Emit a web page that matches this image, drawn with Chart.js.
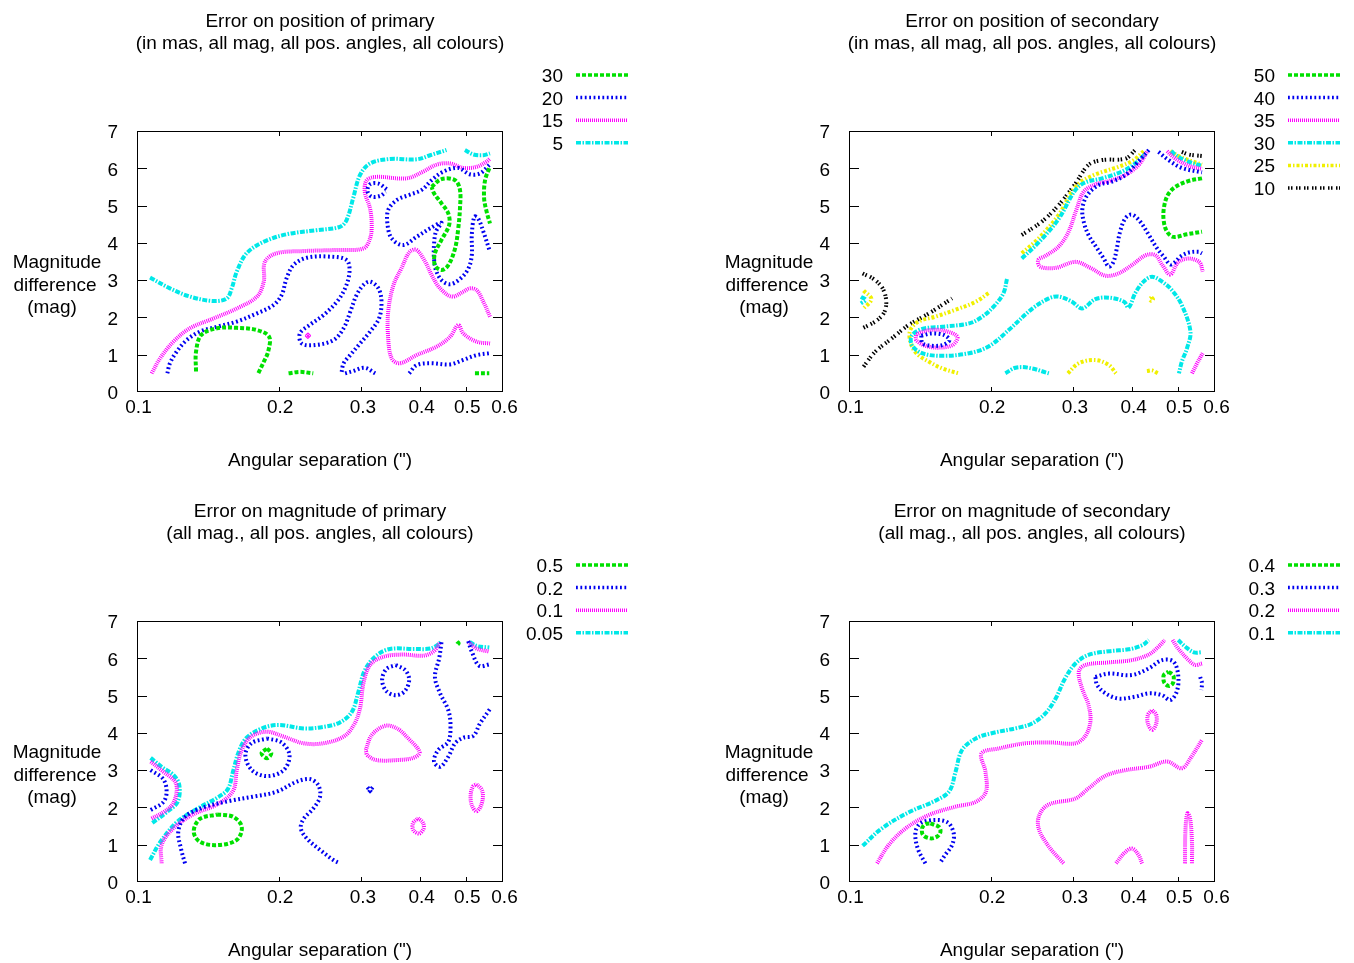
<!DOCTYPE html>
<html>
<head>
<meta charset="utf-8">
<script src="https://cdn.jsdelivr.net/npm/chart.js@4.4.1/dist/chart.umd.min.js"></script>
<style>
  body { margin: 0; background: #fff; width: 1354px; height: 963px; overflow: hidden; position: relative; }
  canvas { position: absolute; }
</style>
</head>
<body>
<canvas id="posPrim" width="642" height="490" style="left:0;top:0"></canvas>
<canvas id="posSec" width="642" height="490" style="left:712px;top:0"></canvas>
<canvas id="magPrim" width="642" height="473" style="left:0;top:490px"></canvas>
<canvas id="magSec" width="642" height="473" style="left:712px;top:490px"></canvas>
<script>
// axis ticks
const xTicks = [0.1, 0.2, 0.3, 0.4, 0.5, 0.6];
const xTickLabels = ['0.1', '0.2', '0.3', '0.4', '0.5', '0.6'];
const yTicks = [0, 1, 2, 3, 4, 5, 6, 7];

// contour curves, [angular separation, magnitude difference] per point
// error on position of primary (mas)
const posPrim30 = [
  [[0.1335,0.55],[0.1335,1.08],[0.137,1.53],[0.148,1.71],[0.163,1.72],[0.180,1.66],[0.191,1.48],[0.190,1.08],[0.186,0.81],[0.181,0.50]],
  [[0.210,0.50],[0.222,0.54],[0.237,0.50]],
  [[0.523,0.50],[0.561,0.50]],
  [[0.423,5.50],[0.444,5.71],[0.4745,5.68],[0.486,5.42],[0.486,4.92],[0.482,4.39],[0.4745,3.85],[0.459,3.40],[0.444,3.27],[0.430,3.40],[0.430,3.72],[0.444,4.08],[0.461,4.48],[0.459,4.79],[0.444,5.06],[0.428,5.33],[0.423,5.50]],
  [[0.561,6.00],[0.5495,5.68],[0.547,5.19],[0.554,4.83],[0.563,4.52]]
];
const posPrim20 = [
  [[0.116,0.50],[0.1175,0.77],[0.1214,1.08],[0.1275,1.39],[0.136,1.62],[0.148,1.75],[0.163,1.89],[0.180,2.11],[0.195,2.33],[0.203,2.60],[0.208,3.05],[0.215,3.40],[0.2295,3.60],[0.257,3.63],[0.279,3.54],[0.283,3.23],[0.277,2.78],[0.266,2.42],[0.249,2.06],[0.233,1.80],[0.222,1.57],[0.224,1.30],[0.239,1.26],[0.2615,1.39],[0.275,1.71],[0.284,2.15],[0.293,2.60],[0.303,2.87],[0.313,2.96],[0.326,2.78],[0.331,2.42],[0.327,1.97],[0.313,1.62],[0.298,1.30],[0.284,0.99],[0.275,0.77],[0.272,0.50]],
  [[0.277,0.50],[0.288,0.56],[0.305,0.65],[0.321,0.50]],
  [[0.379,0.50],[0.393,0.72],[0.42,0.77],[0.463,0.74],[0.494,0.86],[0.5275,0.99],[0.563,1.04]],
  [[0.3395,5.44],[0.326,5.59],[0.313,5.57],[0.309,5.39],[0.3155,5.24],[0.329,5.26],[0.338,5.37]],
  [[0.561,6.09],[0.536,5.86],[0.51,5.84],[0.482,6.01],[0.448,5.91],[0.423,5.68],[0.403,5.42],[0.38,5.29],[0.357,5.15],[0.342,4.88],[0.341,4.48],[0.348,4.12],[0.368,3.94],[0.393,4.16],[0.42,4.39],[0.444,4.54],[0.432,4.30],[0.428,3.94],[0.428,3.58],[0.432,3.27],[0.444,3.00],[0.463,2.89],[0.486,3.03],[0.506,3.30],[0.515,3.67],[0.515,4.21],[0.5215,4.70],[0.531,4.66],[0.545,4.30],[0.563,3.76]]
];
const posPrim15 = [
  [[0.1074,0.50],[0.1119,0.90],[0.1195,1.35],[0.1296,1.71],[0.1453,1.97],[0.163,2.24],[0.180,2.56],[0.186,2.96],[0.187,3.49],[0.198,3.72],[0.226,3.78],[0.266,3.81],[0.303,3.85],[0.313,4.12],[0.3155,4.48],[0.313,4.92],[0.305,5.37],[0.308,5.68],[0.323,5.77],[0.374,5.73],[0.406,5.91],[0.434,6.10],[0.463,6.13],[0.494,6.01],[0.5275,6.04],[0.554,6.18],[0.563,6.26]],
  [[0.563,2.02],[0.545,2.42],[0.5275,2.73],[0.51,2.78],[0.494,2.69],[0.467,2.56],[0.441,2.78],[0.423,3.14],[0.41,3.49],[0.393,3.81],[0.38,3.76],[0.365,3.32],[0.351,2.87],[0.342,2.15],[0.342,1.44],[0.348,0.90],[0.362,0.77],[0.393,0.99],[0.434,1.22],[0.463,1.48],[0.482,1.80],[0.494,1.57],[0.5275,1.35],[0.563,1.30]],
  [[0.229,1.46],[0.233,1.56]],
  [[0.229,1.56],[0.233,1.46]]
];
const posPrim5 = [
  [[0.1066,3.07],[0.1175,2.78],[0.1296,2.56],[0.1453,2.44],[0.1552,2.51],[0.159,2.78],[0.163,3.23],[0.171,3.72],[0.186,4.03],[0.208,4.23],[0.241,4.34],[0.270,4.43],[0.279,4.61],[0.288,5.19],[0.298,5.82],[0.313,6.13],[0.345,6.25],[0.393,6.24],[0.42,6.35],[0.455,6.49]],
  [[0.498,6.49],[0.519,6.37],[0.545,6.35],[0.563,6.40]]
];

// error on position of secondary (mas)
const posSec50 = [
  [[0.563,5.73],[0.5275,5.66],[0.494,5.50],[0.476,5.28],[0.467,4.92],[0.467,4.57],[0.4745,4.30],[0.489,4.16],[0.523,4.23],[0.563,4.30]]
];
const posSec40 = [
  [[0.1425,1.51],[0.150,1.57],[0.159,1.53],[0.1635,1.39],[0.158,1.26],[0.150,1.24],[0.1434,1.30],[0.1425,1.44],[0.1425,1.51]],
  [[0.434,6.49],[0.406,6.09],[0.387,5.82],[0.362,5.64],[0.3395,5.55],[0.321,5.28],[0.3135,4.92],[0.3155,4.57],[0.323,4.21],[0.337,3.85],[0.348,3.58],[0.357,3.36],[0.365,3.49],[0.371,3.85],[0.377,4.30],[0.387,4.66],[0.399,4.76],[0.416,4.57],[0.434,4.21],[0.452,3.85],[0.467,3.63],[0.482,3.42],[0.494,3.49],[0.506,3.63],[0.5275,3.74],[0.554,3.76],[0.563,3.72]],
  [[0.455,6.44],[0.478,6.22],[0.51,6.01],[0.563,5.89]]
];
const posSec35 = [
  [[0.139,1.55],[0.148,1.66],[0.160,1.64],[0.170,1.48],[0.166,1.26],[0.1552,1.19],[0.1453,1.24],[0.139,1.39],[0.139,1.55]],
  [[0.430,6.44],[0.413,6.09],[0.387,5.82],[0.357,5.66],[0.334,5.57],[0.3155,5.37],[0.305,4.92],[0.293,4.30],[0.279,3.90],[0.2615,3.65],[0.2525,3.54],[0.255,3.36],[0.275,3.33],[0.303,3.49],[0.326,3.33],[0.351,3.12],[0.374,3.18],[0.399,3.40],[0.428,3.67],[0.448,3.67],[0.464,3.40],[0.482,3.15],[0.501,3.48],[0.5275,3.58],[0.556,3.48],[0.565,3.23]],
  [[0.4745,6.46],[0.494,6.26],[0.5275,6.07],[0.563,5.98]],
  [[0.536,0.50],[0.5495,0.77],[0.565,1.04]]
];
const posSec30 = [
  [[0.1060,2.55],[0.1085,2.47],[0.1060,2.38]],
  [[0.2167,3.03],[0.213,2.65],[0.203,2.29],[0.192,2.02],[0.180,1.84],[0.158,1.75],[0.143,1.69],[0.136,1.51],[0.136,1.26],[0.143,1.04],[0.158,0.97],[0.180,1.04],[0.198,1.22],[0.2185,1.66],[0.245,2.23],[0.266,2.51],[0.279,2.56],[0.298,2.42],[0.313,2.24],[0.334,2.49],[0.357,2.53],[0.3845,2.42],[0.393,2.26],[0.406,2.65],[0.423,2.96],[0.441,3.09],[0.463,2.96],[0.486,2.73],[0.51,2.33],[0.532,1.62],[0.523,1.17],[0.51,0.81],[0.503,0.50]],
  [[0.215,0.50],[0.226,0.65],[0.241,0.65],[0.266,0.50]],
  [[0.233,3.58],[0.253,4.01],[0.279,4.64],[0.303,5.42],[0.318,5.62],[0.345,5.73],[0.38,5.91],[0.406,6.13],[0.428,6.40]],
  [[0.484,6.46],[0.501,6.31],[0.532,6.16],[0.563,6.07]]
];
const posSec25 = [
  [[0.1074,2.72],[0.1116,2.49],[0.1074,2.24]],
  [[0.198,2.65],[0.186,2.42],[0.168,2.20],[0.1526,2.02],[0.1406,1.89],[0.135,1.66],[0.135,1.35],[0.139,1.04],[0.148,0.81],[0.158,0.63],[0.171,0.50]],
  [[0.233,3.72],[0.253,4.12],[0.279,4.75],[0.303,5.50],[0.329,5.80],[0.374,6.04],[0.403,6.22],[0.423,6.46]],
  [[0.482,6.46],[0.506,6.31],[0.536,6.19],[0.563,6.10]],
  [[0.292,0.50],[0.308,0.77],[0.334,0.86],[0.357,0.72],[0.3695,0.50]],
  [[0.430,0.56],[0.441,0.58],[0.454,0.50]],
  [[0.4395,2.54],[0.443,2.49],[0.4395,2.44],[0.436,2.49],[0.4395,2.54]]
];
const posSec10 = [
  [[0.1069,3.18],[0.1128,3.03],[0.1179,2.78],[0.120,2.42],[0.1185,2.11],[0.1137,1.89],[0.1069,1.71]],
  [[0.1074,0.68],[0.1137,1.08],[0.1234,1.44],[0.134,1.80],[0.148,2.11],[0.1656,2.51]],
  [[0.233,4.21],[0.257,4.57],[0.279,5.01],[0.303,5.59],[0.323,6.09],[0.345,6.22],[0.387,6.26],[0.406,6.49]],
  [[0.51,6.44],[0.5275,6.37],[0.563,6.33]]
];

// error on magnitude of primary
const magPrim05 = [
  [[0.148,1.81],[0.160,1.75],[0.167,1.48],[0.163,1.13],[0.148,0.99],[0.136,1.08],[0.132,1.35],[0.136,1.69],[0.148,1.81]],
  [[0.189,3.58],[0.193,3.45],[0.189,3.32],[0.184,3.45],[0.189,3.58]],
  [[0.479,6.45],[0.483,6.40],[0.479,6.35]]
];
const magPrim02 = [
  [[0.1069,3.00],[0.1137,2.76],[0.1156,2.42],[0.1137,2.14],[0.1069,1.93]],
  [[0.1265,0.50],[0.124,0.90],[0.1224,1.35],[0.1265,1.75],[0.1385,2.00],[0.158,2.18],[0.1768,2.29],[0.198,2.42],[0.2185,2.69],[0.233,2.76],[0.2428,2.60],[0.245,2.29],[0.237,1.97],[0.226,1.69],[0.223,1.44],[0.2295,1.17],[0.245,0.86],[0.2615,0.59],[0.27,0.50]],
  [[0.189,3.85],[0.203,3.74],[0.211,3.40],[0.205,3.00],[0.189,2.84],[0.1755,3.00],[0.170,3.40],[0.175,3.72],[0.189,3.85]],
  [[0.355,5.82],[0.372,5.68],[0.379,5.42],[0.371,5.12],[0.355,5.01],[0.339,5.12],[0.332,5.42],[0.339,5.71],[0.355,5.82]],
  [[0.444,6.43],[0.439,6.00],[0.430,5.50],[0.441,5.06],[0.459,4.61],[0.464,4.21],[0.459,3.76],[0.437,3.54],[0.428,3.23],[0.441,3.09],[0.459,3.36],[0.4745,3.72],[0.494,3.87],[0.519,3.92],[0.536,4.25],[0.563,4.64]],
  [[0.506,6.46],[0.515,6.18],[0.534,5.80],[0.563,5.84]],
  [[0.309,2.54],[0.317,2.36]],
  [[0.317,2.54],[0.309,2.36]]
];
const magPrim01 = [
  [[0.1069,3.23],[0.1137,2.96],[0.1205,2.69],[0.1214,2.42],[0.119,2.08],[0.1137,1.87],[0.1069,1.69]],
  [[0.1128,0.50],[0.1128,0.99],[0.1195,1.44],[0.132,1.82],[0.148,2.08],[0.160,2.44],[0.163,3.00],[0.167,3.54],[0.175,3.90],[0.189,4.03],[0.205,3.90],[0.226,3.72],[0.249,3.72],[0.275,3.90],[0.289,4.21],[0.298,4.66],[0.303,5.33],[0.313,5.82],[0.334,6.04],[0.368,6.10],[0.406,6.07],[0.428,6.19],[0.441,6.43]],
  [[0.506,6.44],[0.5275,6.26],[0.561,6.18]],
  [[0.3065,3.54],[0.3155,3.94],[0.337,4.19],[0.357,4.12],[0.3775,3.85],[0.399,3.48],[0.387,3.33],[0.357,3.27],[0.323,3.27],[0.309,3.40],[0.3065,3.54]],
  [[0.5275,2.62],[0.541,2.47],[0.5435,2.24],[0.536,1.99],[0.526,1.90],[0.515,2.06],[0.512,2.33],[0.518,2.56],[0.5275,2.62]],
  [[0.396,1.71],[0.405,1.60],[0.407,1.44],[0.398,1.30],[0.387,1.39],[0.386,1.57],[0.396,1.71]]
];
const magPrim005 = [
  [[0.1069,3.33],[0.1128,3.09],[0.1195,2.87],[0.123,2.60],[0.122,2.15],[0.1156,1.87],[0.1074,1.57]],
  [[0.1066,0.59],[0.1119,1.06],[0.1214,1.60],[0.134,1.96],[0.148,2.26],[0.156,2.49],[0.160,2.96],[0.1645,3.49],[0.171,3.87],[0.186,4.14],[0.201,4.21],[0.226,4.12],[0.249,4.16],[0.270,4.28],[0.2865,4.57],[0.295,5.06],[0.305,5.68],[0.3225,6.07],[0.345,6.25],[0.387,6.25],[0.42,6.26],[0.437,6.37],[0.444,6.46]],
  [[0.51,6.44],[0.5275,6.33],[0.561,6.29]]
];

// error on magnitude of secondary
const magSec04 = [
  [[0.149,1.57],[0.1552,1.48],[0.1565,1.35],[0.154,1.22],[0.149,1.17],[0.1437,1.26],[0.143,1.44],[0.1453,1.55],[0.149,1.57]],
  [[0.478,5.64],[0.4895,5.53],[0.488,5.33],[0.478,5.26],[0.468,5.35],[0.467,5.55],[0.478,5.64]]
];
const magSec03 = [
  [[0.1453,0.50],[0.140,0.90],[0.1384,1.33],[0.1418,1.57],[0.1506,1.66],[0.162,1.60],[0.167,1.30],[0.1656,0.99],[0.160,0.72],[0.156,0.50]],
  [[0.334,5.50],[0.357,5.59],[0.399,5.55],[0.434,5.73],[0.463,5.95],[0.4895,5.91],[0.501,5.55],[0.498,5.12],[0.482,4.88],[0.463,5.01],[0.434,5.06],[0.406,4.97],[0.374,4.92],[0.351,5.06],[0.337,5.28],[0.334,5.50]],
  [[0.558,5.50],[0.563,5.33],[0.561,5.15]]
];
const magSec02 = [
  [[0.1147,0.50],[0.1214,0.99],[0.132,1.44],[0.148,1.80],[0.1685,2.02],[0.186,2.15],[0.1955,2.42],[0.195,2.96],[0.1913,3.45],[0.208,3.58],[0.237,3.72],[0.270,3.74],[0.303,3.72],[0.318,3.92],[0.326,4.30],[0.323,4.75],[0.313,5.19],[0.308,5.64],[0.318,5.82],[0.357,5.89],[0.399,5.95],[0.434,6.10],[0.455,6.31],[0.469,6.49]],
  [[0.4875,6.49],[0.501,6.26],[0.5275,5.95],[0.545,5.82],[0.563,5.86]],
  [[0.286,0.50],[0.266,0.95],[0.253,1.44],[0.254,1.80],[0.266,2.08],[0.303,2.24],[0.323,2.51],[0.351,2.85],[0.387,3.00],[0.434,3.09],[0.4745,3.23],[0.51,3.05],[0.532,3.32],[0.563,3.81]],
  [[0.3695,0.50],[0.3845,0.77],[0.399,0.90],[0.412,0.74],[0.42,0.50]],
  [[0.518,0.50],[0.519,1.35],[0.524,1.84],[0.531,1.71],[0.536,1.08],[0.536,0.50]],
  [[0.441,4.61],[0.450,4.48],[0.450,4.25],[0.441,4.08],[0.432,4.25],[0.432,4.48],[0.441,4.61]]
];
const magSec01 = [
  [[0.1069,0.97],[0.1175,1.44],[0.134,1.87],[0.1526,2.18],[0.1635,2.44],[0.1685,2.96],[0.1739,3.54],[0.186,3.85],[0.201,3.99],[0.2295,4.14],[0.245,4.25],[0.2615,4.52],[0.275,4.92],[0.288,5.46],[0.303,5.86],[0.323,6.09],[0.357,6.19],[0.393,6.24],[0.42,6.35],[0.434,6.49]],
  [[0.501,6.49],[0.519,6.31],[0.541,6.16],[0.563,6.16]]
];

const FONT = '"Liberation Sans", Arial, Helvetica, sans-serif';

// gnuplot-like line types
const lineTypes = {
  green:   { color: '#00e000', dash: [4, 2] },
  blue:    { color: '#0000f0', dash: [1.8, 2.6] },
  magenta: { color: '#ff00ff', dash: [1, 1] },
  cyan:    { color: '#00e8e8', dash: [5, 1.5, 1.5, 1.5] },
  yellow:  { color: '#f0f000', dash: [3, 2, 1.5, 2] },
  black:   { color: '#000000', dash: [1.5, 1.5, 1.5, 3.5] }
};
const LW = 4;

// titles, labels and box drawn the gnuplot way
const panelText = {
  id: 'panelText',
  afterDraw(chart, args, opts) {
    const ctx = chart.ctx;
    const a = chart.chartArea;
    const cx = (a.left + a.right) / 2;
    const xs = chart.scales.x, ys = chart.scales.y;
    ctx.save();

    // border + inward ticks
    ctx.strokeStyle = '#000';
    ctx.lineWidth = 1;
    ctx.setLineDash([]);
    ctx.strokeRect(a.left + 0.5, a.top + 0.5, a.right - a.left - 1, a.bottom - a.top - 1);
    ctx.beginPath();
    yTicks.slice(1, -1).forEach(v => {
      const py = Math.round(ys.getPixelForValue(v)) + 0.5;
      ctx.moveTo(a.left, py); ctx.lineTo(a.left + 10, py);
      ctx.moveTo(a.right, py); ctx.lineTo(a.right - 10, py);
    });
    xTicks.slice(1, -1).forEach(v => {
      const px = Math.round(xs.getPixelForValue(v)) + 0.5;
      ctx.moveTo(px, a.bottom); ctx.lineTo(px, a.bottom - 5);
      ctx.moveTo(px, a.top); ctx.lineTo(px, a.top + 5);
    });
    ctx.stroke();

    ctx.fillStyle = '#000';
    ctx.font = '19px ' + FONT;
    ctx.textAlign = 'center';
    ctx.textBaseline = 'alphabetic';
    ctx.fillText(opts.title[0], cx, 27);
    ctx.fillText(opts.title[1], cx, 49);
    ctx.fillText('Angular separation (")', cx, 466);
    ctx.fillText('Magnitude', 57, 268);
    ctx.fillText('difference', 55, 291);
    ctx.fillText('(mag)', 52, 313);

    // key
    opts.levels.forEach((lv, i) => {
      const y = 75 + i * 22.6;
      ctx.textAlign = 'right';
      ctx.fillStyle = '#000';
      ctx.fillText(lv.label, 563, y + 7);
      const t = lineTypes[lv.type];
      ctx.strokeStyle = t.color;
      ctx.lineWidth = 3.5;
      ctx.setLineDash(t.dash);
      ctx.beginPath();
      ctx.moveTo(576, y);
      ctx.lineTo(628, y);
      ctx.stroke();
    });
    ctx.restore();
  }
};

function makePanel(id, title, levels) {
  const datasets = [];
  levels.forEach(lv => {
    const t = lineTypes[lv.type];
    lv.curves.forEach(seg => {
      datasets.push({
        data: seg.map(p => ({ x: p[0], y: p[1] })),
        showLine: true,
        borderColor: t.color,
        borderDash: t.dash,
        borderWidth: LW,
        pointRadius: 0,
        tension: 0.35,
        fill: false
      });
    });
  });

  const canvas = document.getElementById(id);
  new Chart(canvas.getContext('2d'), {
    type: 'scatter',
    data: { datasets },
    options: {
      responsive: false,
      animation: false,
      events: [],
      layout: { padding: { left: 0, top: 131, right: 139, bottom: canvas.height - 392 - 40 } },
      scales: {
        x: {
          type: 'logarithmic',
          min: 0.1,
          max: 0.6,
          grid: { display: false, drawTicks: false },
          border: { display: false },
          afterBuildTicks: s => { s.ticks = xTicks.map(v => ({ value: v })); },
          afterFit: s => { s.height = 40; },
          ticks: {
            autoSkip: false,
            maxRotation: 0,
            padding: 4.5,
            labelOffset: 1.5,
            color: '#000',
            font: { family: FONT, size: 19 },
            callback: (v, i) => xTickLabels[i]
          }
        },
        y: {
          min: 0,
          max: 7,
          grid: { display: false, drawTicks: false },
          border: { display: false },
          afterBuildTicks: s => { s.ticks = yTicks.map(v => ({ value: v })); },
          afterFit: s => { s.width = 137; },
          ticks: {
            padding: 19,
            labelOffset: 2,
            color: '#000',
            font: { family: FONT, size: 19 },
            callback: v => String(v)
          }
        }
      },
      plugins: {
        legend: { display: false },
        tooltip: { enabled: false },
        panelText: { title, levels }
      }
    },
    plugins: [panelText]
  });
}

makePanel('posPrim',
  ['Error on position of primary', '(in mas, all mag, all pos. angles, all colours)'],
  [
    { label: '30', type: 'green', curves: posPrim30 },
    { label: '20', type: 'blue', curves: posPrim20 },
    { label: '15', type: 'magenta', curves: posPrim15 },
    { label: '5', type: 'cyan', curves: posPrim5 }
  ]);

makePanel('posSec',
  ['Error on position of secondary', '(in mas, all mag, all pos. angles, all colours)'],
  [
    { label: '50', type: 'green', curves: posSec50 },
    { label: '40', type: 'blue', curves: posSec40 },
    { label: '35', type: 'magenta', curves: posSec35 },
    { label: '30', type: 'cyan', curves: posSec30 },
    { label: '25', type: 'yellow', curves: posSec25 },
    { label: '10', type: 'black', curves: posSec10 }
  ]);

makePanel('magPrim',
  ['Error on magnitude of primary', '(all mag., all pos. angles, all colours)'],
  [
    { label: '0.5', type: 'green', curves: magPrim05 },
    { label: '0.2', type: 'blue', curves: magPrim02 },
    { label: '0.1', type: 'magenta', curves: magPrim01 },
    { label: '0.05', type: 'cyan', curves: magPrim005 }
  ]);

makePanel('magSec',
  ['Error on magnitude of secondary', '(all mag., all pos. angles, all colours)'],
  [
    { label: '0.4', type: 'green', curves: magSec04 },
    { label: '0.3', type: 'blue', curves: magSec03 },
    { label: '0.2', type: 'magenta', curves: magSec02 },
    { label: '0.1', type: 'cyan', curves: magSec01 }
  ]);
</script>
</body>
</html>
